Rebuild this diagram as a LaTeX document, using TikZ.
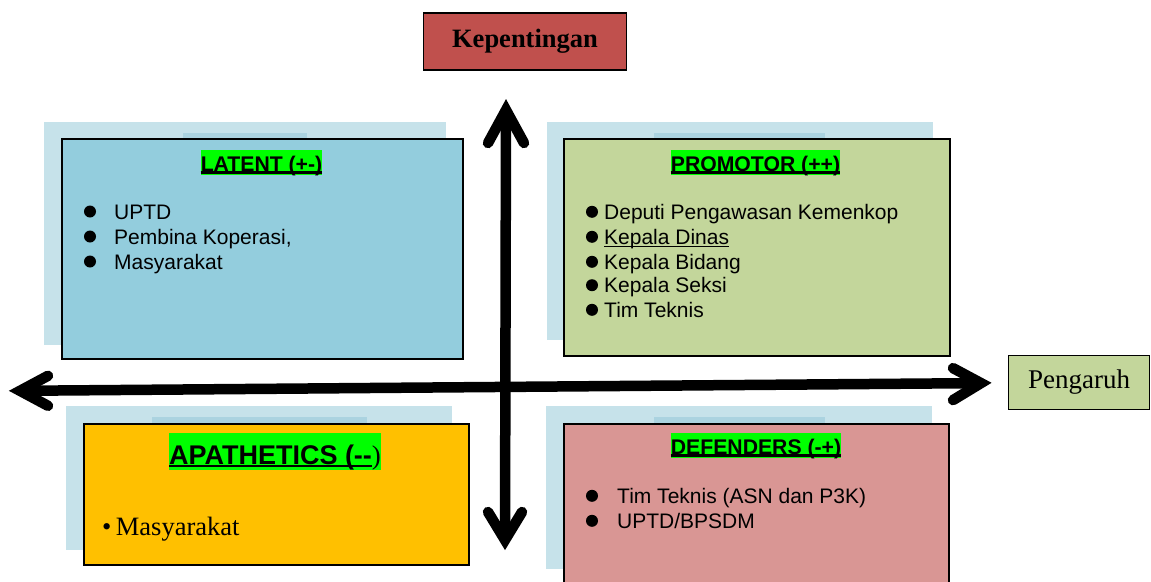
\documentclass[tikz,border=0pt]{standalone}
\usepackage{fontspec}
\setmainfont{Liberation Serif}
\setsansfont{Liberation Sans}
\usetikzlibrary{calc}
\definecolor{shadowblue}{HTML}{C6E2EA}
\definecolor{stripblue}{HTML}{ABD3E0}
\definecolor{latentfill}{HTML}{93CDDD}
\definecolor{promofill}{HTML}{C3D69B}
\definecolor{apafill}{HTML}{FFC000}
\definecolor{deffill}{HTML}{D99694}
\definecolor{kepfill}{HTML}{C0504D}
\definecolor{hl}{HTML}{00FF00}
\newcommand\myul[3]{\setbox0\hbox{#3}\leavevmode\rlap{\rule[-#1]{\wd0}{#2}}\box0}
\tikzset{
  quad/.style={draw=black, line width=1.8pt, inner sep=0pt, anchor=north west},
  title/.style={fill=hl, inner sep=0pt, anchor=north, text height=21pt, text depth=4pt,
    font=\sffamily\bfseries\fontsize{21.2}{25}\selectfont},
  body/.style={anchor=base west, inner sep=0pt, font=\sffamily\fontsize{21}{25}\selectfont},
  bul/.style={fill=black},
  axis/.style={line width=10.5pt, line cap=butt},
  head/.style={line width=10.5pt, line cap=round, line join=miter},
  label/.style={draw=black, line width=1.5pt, inner sep=0pt}
}
\begin{document}
\begin{tikzpicture}[x=1pt, y=-1pt]
\useasboundingbox (0,0) rectangle (1151,581);
\clip (0,0) rectangle (1151,581);
% ---------- LATENT
\fill[shadowblue] (44,122) rectangle (446,345);
\fill[stripblue] (183,133) rectangle (307,140);
\node[quad, fill=latentfill, minimum width=401pt, minimum height=220pt] (latent) at (61,138) {};
\node[title] (latentT) at (261.5,150) {\myul{2.6pt}{2.4pt}{LATENT (+{-})}};
\foreach \yy/\tt [count=\i] in {219/UPTD, 244/{Pembina Koperasi,}, 269/Masyarakat}{
  \fill[bul] (90,\yy-7.5) circle (6pt);
  \node[body] (lat\i) at (114,\yy) {\tt};
}
% ---------- PROMOTOR
\fill[shadowblue] (547,122) rectangle (933,340);
\fill[stripblue] (654,133) rectangle (825,140);
\node[quad, fill=promofill, minimum width=386pt, minimum height=217pt] (promo) at (563,138) {};
\node[title] (promoT) at (755.5,150) {\myul{2.6pt}{2.4pt}{PROMOTOR (++)}};
\foreach \yy in {219.3,244.3,269.3,292.7,317.3}{
  \fill[bul] (592,\yy-7.5) circle (6pt);
}
\node[body] (pro1) at (604,219.3) {Deputi Pengawasan Kemenkop};
\node[body] (pro2) at (604,244.3) {\myul{2.6pt}{1.4pt}{Kepala Dinas}};
\node[body] (pro3) at (604,269.3) {Kepala Bidang};
\node[body] (pro4) at (604,292.7) {Kepala Seksi};
\node[body] (pro5) at (604,317.3) {Tim Teknis};
% ---------- APATHETICS
\fill[shadowblue] (66,406) rectangle (452,550);
\fill[stripblue] (152,417) rectangle (367,425);
\node[quad, fill=apafill, minimum width=385pt, minimum height=141pt] (apa) at (83,423) {};
\node[fill=hl, inner sep=0pt, anchor=north, text height=31pt, text depth=6pt] (apaT) at (275,433)
  {\fontsize{27}{32}\selectfont{\sffamily\bfseries\myul{3pt}{2.6pt}{APATHETICS ({-}{-}}}\rmfamily)};
\node[anchor=base west, inner sep=0pt, font=\rmfamily\fontsize{26.5}{30}\selectfont] (apa1) at (102,535) {\textbullet\,Masyarakat};
% ---------- DEFENDERS
\fill[shadowblue] (546,406) rectangle (932,569);
\fill[stripblue] (654,417) rectangle (825,425);
\node[quad, fill=deffill, minimum width=385pt, minimum height=180pt] (def) at (563,423) {};
\node[title] (defT) at (756,433) {\myul{2.6pt}{2.4pt}{DEFENDERS ({-}+)}};
\foreach \yy in {503.3,528.3}{
  \fill[bul] (592,\yy-7.5) circle (6pt);
}
\node[body] (def1) at (617,503.3) {Tim Teknis (ASN dan P3K)};
\node[body] (def2) at (617,528.3) {UPTD/BPSDM};
% ---------- labels
\node[label, fill=kepfill, minimum width=203pt, minimum height=57pt,
  font=\rmfamily\bfseries\fontsize{26.5}{30}\selectfont] (kep) at (525,41.5) {Kepentingan};
\node[label, fill=promofill, minimum width=141pt, minimum height=54pt,
  font=\rmfamily\fontsize{27}{30}\selectfont] (peng) at (1079,382.5) {Pengaruh};
% ---------- axes
\coordinate (top) at (506,110);
\coordinate (bottom) at (505,540);
\coordinate (left) at (20,390.8);
\coordinate (right) at (981,383.1);
\draw[axis] (top) -- (bottom);
\draw[axis] (left) -- (right);
\draw[head] ($(top)+(-18,33)$) -- (top) -- ($(top)+(18,33)$);
\draw[head] ($(bottom)+(-17,-28)$) -- (bottom) -- ($(bottom)+(17,-28)$);
\draw[head] ($(left)+(28,-15)$) -- (left) -- ($(left)+(28,15)$);
\draw[head] ($(right)+(-28,-15)$) -- (right) -- ($(right)+(-28,17)$);
\end{tikzpicture}
\end{document}
